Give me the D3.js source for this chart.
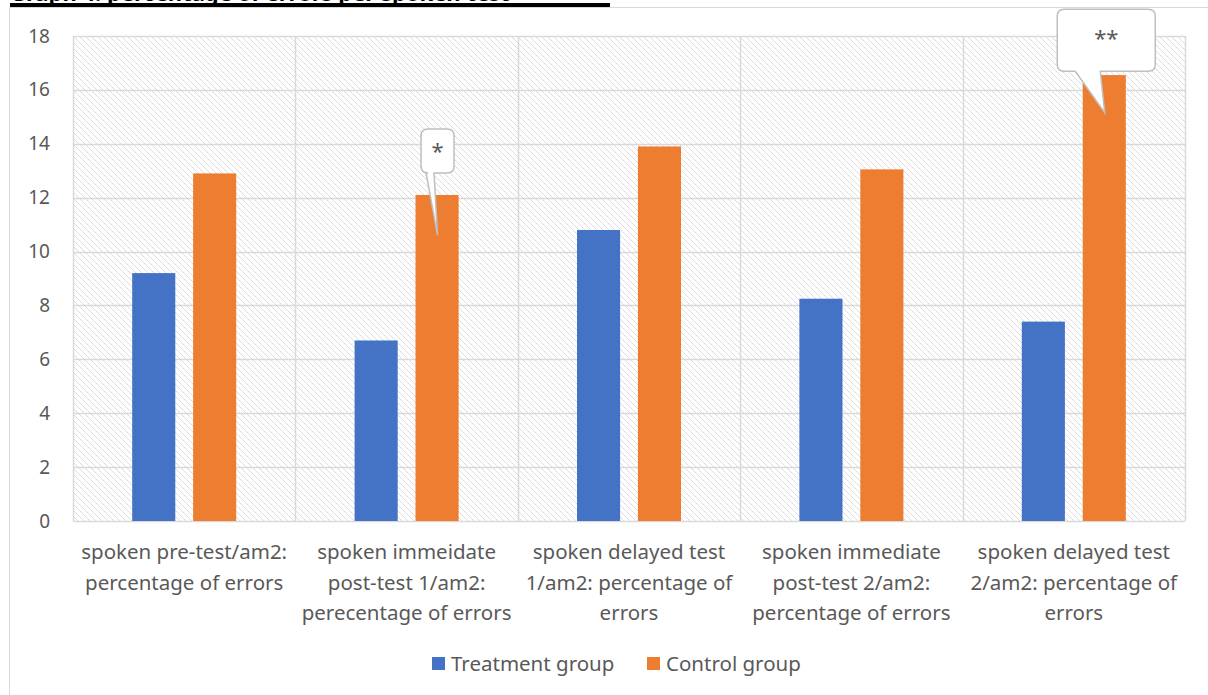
<!DOCTYPE html>
<html lang="en">
<head>
<meta charset="utf-8">
<title>Percentage of errors per test</title>
<script src="https://d3js.org/d3.v7.min.js"></script>
<style>
  body { margin: 0; background: #fff; }
  text { font-family: "Noto Sans", "Liberation Sans", sans-serif; }
</style>
</head>
<body>
<svg width="1208" height="695"></svg>
<script>
// data
const categories = [
  ["spoken pre-test/am2:", "percentage of errors"],
  ["spoken immeidate", "post-test 1/am2:", "perecentage of errors"],
  ["spoken delayed test", "1/am2: percentage of", "errors"],
  ["spoken immediate", "post-test 2/am2:", "percentage of errors"],
  ["spoken delayed test", "2/am2: percentage of", "errors"]
];
const treatment = [9.2, 6.7, 10.8, 8.25, 7.4];
const control = [12.9, 12.1, 13.9, 13.05, 16.55];
const seriesNames = ["Treatment group", "Control group"];
const yTicks = [0, 2, 4, 6, 8, 10, 12, 14, 16, 18];
// callouts: category, label, value where the pointer ends
const callouts = [
  { cat: 1, label: "*", tip: 10.6 },
  { cat: 4, label: "**", tip: 15.15 }
];

const colors = ["#4472c4", "#ed7d31"];
const grid = "#d9d9d9";
const textCol = "#595959";

const svg = d3.select("svg");

// hatch fill behind the plot
const defs = svg.append("defs");
defs.append("pattern")
    .attr("id", "hatch")
    .attr("patternUnits", "userSpaceOnUse")
    .attr("width", 6).attr("height", 6)
  .append("path")
    .attr("d", "M0,0L6,6M-1,5L1,7M5,-1L7,1")
    .attr("stroke", "#dcdcdc")
    .attr("stroke-width", 1);

// title, cut at the top of the picture
svg.append("text")
    .attr("x", 10).attr("y", 1)
    .attr("font-weight", "bold")
    .attr("font-size", 22)
    .attr("fill", "#000")
    .text("Graph 4: percentage of errors per spoken test");
svg.append("rect")
    .attr("x", 10).attr("y", 3).attr("width", 600).attr("height", 4)
    .attr("fill", "#000");

// chart frame
svg.append("path")
    .attr("d", "M9.5,695V7.5H1208")
    .attr("fill", "none")
    .attr("stroke", grid);

const margin = { top: 36, left: 73, right: 23, bottom: 174 },
    width = 1208 - margin.left - margin.right,
    height = 695 - margin.top - margin.bottom;

const g = svg.append("g").attr("transform", `translate(${margin.left},${margin.top})`);

const x0 = d3.scaleBand().domain(d3.range(categories.length)).range([0, width]).padding(0);
const groupW = 104;
const x1 = d3.scaleBand().domain([0, 1]).range([0, groupW]).paddingInner(18 / 61.5);
const y = d3.scaleLinear().domain([0, 18]).range([height, 0]);

g.append("rect")
    .attr("width", width).attr("height", height)
    .attr("fill", "url(#hatch)");

// gridlines
g.append("g")
    .selectAll("line")
    .data(yTicks)
    .join("line")
    .attr("x1", 0).attr("x2", width)
    .attr("y1", d => Math.round(y(d)) + 0.5).attr("y2", d => Math.round(y(d)) + 0.5)
    .attr("stroke", grid)
    .attr("stroke-width", 1.5);

g.append("g")
    .selectAll("line")
    .data(d3.range(categories.length + 1))
    .join("line")
    .attr("x1", d => Math.round(d * x0.bandwidth()) + 0.5)
    .attr("x2", d => Math.round(d * x0.bandwidth()) + 0.5)
    .attr("y1", 0).attr("y2", height)
    .attr("stroke", grid)
    .attr("stroke-width", 1.5);

// y axis labels
const yAxis = g.append("g")
    .call(d3.axisLeft(y).tickValues(yTicks).tickSize(0).tickPadding(23))
    .style("font-size", "19px");
yAxis.select(".domain").remove();
yAxis.selectAll("text").attr("fill", textCol).style("font-family", "'Noto Sans', sans-serif");

// bars
const off = (x0.bandwidth() - groupW) / 2;
const seriesData = [treatment, control];
seriesData.forEach((vals, s) => {
  g.append("g")
    .selectAll("rect")
    .data(vals)
    .join("rect")
    .attr("x", (d, i) => x0(i) + off + x1(s))
    .attr("y", d => y(d))
    .attr("width", x1.bandwidth())
    .attr("height", d => height - y(d))
    .attr("fill", colors[s]);
});

// category labels
const labels = g.append("g");
categories.forEach((lines, i) => {
  const t = labels.append("text")
      .attr("text-anchor", "middle")
      .attr("fill", textCol)
      .attr("font-size", 20.5);
  lines.forEach((ln, k) => {
    t.append("tspan")
      .attr("x", x0(i) + x0.bandwidth() / 2)
      .attr("y", height + 38 + k * 30.5)
      .text(ln);
  });
});

// callouts
callouts.forEach(c => {
  const cx = x0(c.cat) + off + x1(1) + x1.bandwidth() / 2;
  const ty = y(c.tip);
  let bx, by, bw, bh, p0, p1;
  if (c.label === "*") {
    bx = cx - 16; by = y(14.55); bw = 33; bh = 44; p0 = cx - 11; p1 = cx - 3;
  } else {
    bx = cx - 47; by = y(18.99); bw = 98; bh = 62; p0 = cx - 29; p1 = cx - 4;
  }
  const r = 7;
  const path = `M${bx + r},${by}H${bx + bw - r}Q${bx + bw},${by} ${bx + bw},${by + r}` +
    `V${by + bh - r}Q${bx + bw},${by + bh} ${bx + bw - r},${by + bh}` +
    `H${p1}L${cx + 0.5},${ty}L${p0},${by + bh}` +
    `H${bx + r}Q${bx},${by + bh} ${bx},${by + bh - r}V${by + r}Q${bx},${by} ${bx + r},${by}Z`;
  g.append("path")
    .attr("d", path)
    .attr("fill", "#fff")
    .attr("stroke", "#bfbfbf")
    .attr("stroke-width", 1.5);
  g.append("text")
    .attr("x", bx + bw / 2)
    .attr("y", by + (c.label === "*" ? 30 : 37))
    .attr("text-anchor", "middle")
    .attr("fill", textCol)
    .attr("font-size", 22)
    .attr("font-family", "'DejaVu Sans', sans-serif")
    .text(c.label);
});

// legend
const legend = svg.append("g").attr("transform", "translate(432,657)");
const legX = [0, 215];
seriesNames.forEach((n, i) => {
  legend.append("rect")
    .attr("x", legX[i]).attr("y", 0)
    .attr("width", 13).attr("height", 13)
    .attr("fill", colors[i]);
  legend.append("text")
    .attr("x", legX[i] + 19).attr("y", 14)
    .attr("fill", textCol)
    .attr("font-size", 20.5)
    .text(n);
});
</script>
</body>
</html>
